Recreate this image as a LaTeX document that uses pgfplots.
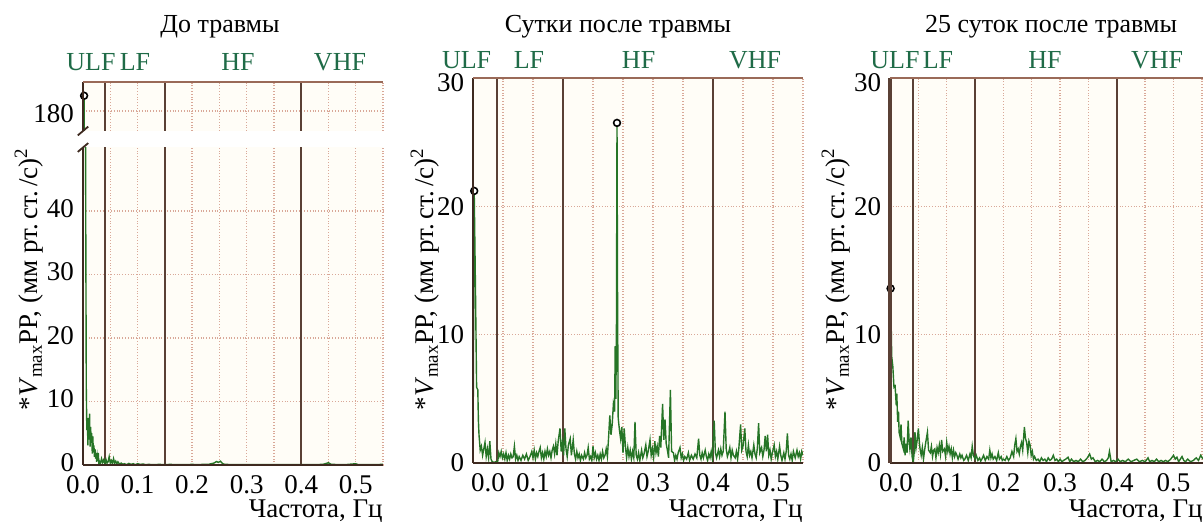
\documentclass[border=0pt]{standalone}
\usepackage{fontspec}
\setmainfont{Liberation Serif}
\usepackage{pgfplots}
\usepackage{pgfplotstable}
\pgfplotsset{compat=1.18}
\definecolor{axbrown}{HTML}{3E2A20}
\definecolor{bandline}{HTML}{5A4035}
\definecolor{gridc}{HTML}{D9A898}
\definecolor{topc}{HTML}{9A6A58}
\definecolor{specg}{HTML}{267526}
\definecolor{bandlbl}{HTML}{1F6B47}
\definecolor{bgc}{HTML}{FFFDF7}
\newcommand{\fs}{\fontsize{13.5}{15}\selectfont}
\newcommand{\ylab}{*\textit{V}\textsubscript{max}PP, (мм рт.\,ст.\,/с)\textsuperscript{2}}

\pgfplotstableread{
f v
0.000 0
0.002 182.4
0.004 90
0.005 40
0.006 12.3
0.007 5.5
0.008 7.1
0.009 3.1
0.010 7.4
0.011 4.0
0.012 8.1
0.013 2.9
0.014 6.0
0.015 3.5
0.016 5.0
0.017 1.8
0.018 4.5
0.019 2.0
0.020 3.1
0.021 1.3
0.022 2.5
0.023 1.0
0.024 1.9
0.025 0.5
0.026 1.4
0.027 0.6
0.028 1.9
0.029 0.3
0.030 0.6
0.032 0.2
0.034 1.0
0.036 0.4
0.038 0.8
0.040 0.2
0.042 0.9
0.044 0.3
0.046 0.5
0.048 1.3
0.050 0.3
0.052 0.7
0.054 0.2
0.056 1.0
0.058 0.3
0.060 0.6
0.062 0.15
0.064 0.5
0.067 0.1
0.070 0.3
0.073 0.1
0.076 0.2
0.080 0.05
0.084 0.25
0.088 0.1
0.092 0.2
0.096 0.05
0.100 0.2
0.105 0.1
0.110 0.15
0.115 0.05
0.120 0.1
0.130 0.05
0.140 0.1
0.150 0.05
0.160 0.1
0.170 0.05
0.180 0.08
0.190 0.05
0.200 0.1
0.210 0.05
0.220 0.1
0.230 0.1
0.240 0.3
0.245 0.55
0.248 0.4
0.252 0.6
0.256 0.2
0.260 0.1
0.280 0.05
0.300 0.08
0.320 0.05
0.350 0.05
0.380 0.05
0.400 0.05
0.420 0.05
0.440 0.1
0.450 0.35
0.455 0.1
0.480 0.05
0.500 0.2
0.505 0.05
0.530 0.05
0.550 0.1
}\dataA

\pgfplotstableread{
f v
0.000 0
0.002 21.2
0.004 14
0.006 5.9
0.008 5.7
0.009 3.3
0.010 2.2
0.012 1.0
0.014 1.3
0.016 0.6
0.018 1.1
0.020 1.6
0.022 0.5
0.024 1.1
0.026 0.4
0.028 1.7
0.030 0.3
0.032 0.1
0.035 0.05
0.038 0.1
0.041 0.05
0.043 0.8
0.045 0.5
0.047 0.9
0.049 0.4
0.051 0.7
0.053 0.3
0.055 0.8
0.057 0.2
0.059 0.6
0.061 0.3
0.063 0.7
0.065 0.4
0.067 0.5
0.069 1.3
0.071 0.3
0.073 0.6
0.075 0.2
0.077 0.5
0.080 0.2
0.083 0.6
0.086 0.3
0.089 0.7
0.092 0.2
0.095 0.5
0.098 0.9
0.100 0.4
0.102 1.0
0.104 0.3
0.106 0.8
0.108 0.5
0.110 0.9
0.112 1.2
0.114 0.4
0.116 0.8
0.118 0.3
0.120 0.9
0.122 0.5
0.124 1.1
0.126 0.6
0.128 0.9
0.130 0.4
0.132 1.0
0.134 1.3
0.136 0.7
0.138 1.5
0.140 0.6
0.142 1.7
0.145 2.7
0.147 0.9
0.149 1.6
0.151 0.6
0.153 2.7
0.155 1.1
0.157 0.5
0.159 1.4
0.162 1.9
0.164 0.6
0.167 1.8
0.169 0.7
0.171 0.3
0.173 0.9
0.175 0.4
0.177 0.7
0.179 0.2
0.181 0.6
0.184 0.3
0.186 0.8
0.188 0.4
0.190 0.6
0.192 1.2
0.194 0.3
0.196 0.5
0.198 0.2
0.200 1.3
0.202 0.4
0.204 0.8
0.206 0.3
0.208 0.6
0.210 0.2
0.212 0.7
0.214 0.3
0.216 0.9
0.218 0.4
0.220 0.6
0.222 1.1
0.224 0.5
0.226 2.0
0.228 3.7
0.230 2.2
0.232 3.0
0.234 4.6
0.236 4.0
0.237 9.1
0.238 5.0
0.239 9.5
0.240 26.5
0.241 12
0.242 3.5
0.244 2.6
0.246 1.9
0.248 2.8
0.250 0.8
0.252 2.7
0.254 1.3
0.256 0.4
0.258 1.2
0.260 0.5
0.262 1.0
0.264 0.3
0.266 0.9
0.268 0.4
0.270 3.2
0.272 0.6
0.274 0.3
0.276 0.8
0.278 0.2
0.281 1.0
0.283 0.4
0.285 0.7
0.288 1.4
0.290 0.5
0.292 0.9
0.295 1.8
0.297 0.6
0.299 1.1
0.301 0.4
0.303 1.7
0.305 0.8
0.307 1.3
0.309 0.5
0.311 2.1
0.313 1.2
0.316 4.6
0.318 1.8
0.320 3.4
0.322 1.5
0.324 1.0
0.326 0.4
0.329 5.7
0.331 0.9
0.334 0.8
0.336 0.2
0.338 0.6
0.340 0.3
0.342 0.8
0.345 1.2
0.347 0.4
0.349 0.7
0.351 0.2
0.353 0.5
0.356 0.3
0.359 0.8
0.361 0.2
0.364 0.6
0.367 0.3
0.370 0.7
0.373 0.4
0.376 1.9
0.378 0.6
0.380 0.3
0.382 0.8
0.384 0.4
0.387 1.0
0.389 0.5
0.391 0.2
0.393 0.7
0.395 0.4
0.397 0.9
0.399 0.3
0.402 3.3
0.404 0.8
0.406 0.4
0.409 1.0
0.411 0.5
0.413 1.1
0.415 0.6
0.417 0.9
0.420 4.0
0.422 1.1
0.424 0.5
0.426 0.8
0.428 1.2
0.430 0.4
0.432 1.0
0.434 0.6
0.437 0.4
0.439 0.9
0.441 0.3
0.443 1.1
0.446 3.0
0.448 1.0
0.450 1.3
0.453 2.7
0.455 0.9
0.457 0.5
0.459 1.4
0.461 0.6
0.463 0.9
0.465 0.4
0.468 1.4
0.470 0.7
0.472 0.4
0.474 1.2
0.476 3.1
0.478 0.8
0.481 1.2
0.483 0.5
0.485 1.0
0.487 2.1
0.489 0.9
0.491 2.2
0.493 0.6
0.495 1.0
0.497 0.3
0.499 0.8
0.502 1.4
0.504 0.5
0.506 0.9
0.508 0.3
0.511 1.3
0.513 0.6
0.515 0.2
0.518 0.8
0.520 0.3
0.522 0.9
0.524 2.3
0.526 0.6
0.528 0.3
0.530 0.7
0.532 0.2
0.534 0.9
0.537 0.4
0.540 1.0
0.542 0.5
0.544 0.8
0.546 0.3
0.548 0.9
0.550 0.6
}\dataB

\pgfplotstableread{
f v
0.000 0
0.001 13.6
0.003 8.3
0.005 7.5
0.007 5.9
0.009 6.0
0.011 4.5
0.012 5.4
0.0135 3.2
0.015 4.0
0.016 2.4
0.018 2.0
0.0194 3.0
0.021 1.5
0.0235 1.1
0.025 2.0
0.0265 0.6
0.028 1.5
0.030 0.8
0.032 3.3
0.034 1.5
0.035 1.1
0.037 2.0
0.039 0.5
0.041 0.05
0.043 1.0
0.044 2.4
0.046 1.2
0.048 1.8
0.050 2.7
0.052 1.5
0.053 1.1
0.055 0.6
0.057 1.2
0.059 0.3
0.061 1.0
0.063 1.6
0.066 2.4
0.068 1.0
0.071 0.8
0.073 1.3
0.075 0.5
0.077 1.0
0.079 1.1
0.081 0.4
0.083 1.2
0.085 0.8
0.087 1.4
0.089 0.7
0.091 1.8
0.093 0.9
0.096 1.1
0.098 0.5
0.100 1.6
0.102 0.9
0.104 1.3
0.106 0.7
0.108 1.1
0.110 0.4
0.112 1.0
0.114 0.5
0.116 0.8
0.118 0.6
0.120 0.3
0.123 0.7
0.125 0.4
0.127 0.6
0.130 0.2
0.132 0.3
0.135 0.6
0.138 0.2
0.141 0.7
0.143 0.4
0.145 1.3
0.147 0.6
0.150 0.3
0.152 0.6
0.155 0.2
0.158 0.4
0.160 0.15
0.162 0.3
0.165 0.6
0.168 0.2
0.171 0.5
0.174 0.3
0.176 1.0
0.178 0.4
0.180 0.7
0.182 0.3
0.185 0.5
0.188 0.2
0.191 0.8
0.193 0.3
0.196 0.5
0.198 0.2
0.200 0.3
0.203 0.2
0.206 0.5
0.209 0.2
0.212 0.4
0.215 0.9
0.218 0.5
0.220 1.4
0.222 1.9
0.224 0.9
0.226 1.1
0.228 0.7
0.230 1.3
0.232 1.6
0.234 1.0
0.236 2.2
0.237 2.8
0.239 1.9
0.241 1.6
0.243 0.8
0.245 1.7
0.247 1.4
0.249 0.6
0.251 0.9
0.253 0.3
0.255 0.5
0.258 0.2
0.261 0.3
0.264 0.1
0.267 0.4
0.270 0.2
0.273 0.3
0.276 0.1
0.279 0.4
0.282 0.2
0.285 0.3
0.288 0.6
0.291 0.2
0.294 0.3
0.297 0.1
0.300 0.3
0.303 0.1
0.306 0.2
0.310 0.3
0.314 0.45
0.317 0.1
0.320 0.3
0.324 0.1
0.328 0.2
0.332 0.1
0.336 0.3
0.340 0.1
0.344 0.2
0.348 0.4
0.352 0.7
0.355 0.3
0.358 0.4
0.362 0.1
0.366 0.2
0.370 0.1
0.374 0.3
0.378 0.1
0.382 0.2
0.385 0.4
0.387 0.9
0.390 0.1
0.394 0.2
0.398 0.1
0.402 0.3
0.406 0.1
0.410 0.2
0.415 0.1
0.420 0.3
0.425 0.1
0.430 0.2
0.435 0.3
0.440 0.1
0.445 0.2
0.450 0.1
0.455 0.4
0.458 0.1
0.462 0.2
0.466 0.1
0.470 0.3
0.474 0.1
0.478 0.2
0.482 0.1
0.486 0.2
0.490 0.1
0.495 0.3
0.500 0.6
0.503 0.3
0.506 0.45
0.509 0.1
0.512 0.3
0.515 0.5
0.518 0.2
0.521 0.1
0.525 0.3
0.530 0.1
0.535 0.2
0.540 0.4
0.544 0.2
0.548 0.6
0.552 0.3
}\dataC

\pgfplotsset{
  spec/.style={
    scale only axis,
    xmin=0, xmax=0.55,
    axis line style={draw=none},
    axis background/.style={fill=bgc},
    major tick length=0pt, minor tick length=0pt,
    xtick={0,0.1,0.2,0.3,0.4,0.5},
    xticklabels={0.0,0.1,0.2,0.3,0.4,0.5},
    minor xtick={0.05,0.25,0.35,0.45,0.55},
    xmajorgrids, xminorgrids, ymajorgrids,
    major grid style={gridc, densely dotted, line width=0.7pt},
    minor grid style={gridc, densely dotted, line width=0.7pt},
    extra x ticks={0.04,0.15,0.4},
    extra x tick labels={},
    extra x tick style={grid=major, major grid style={bandline, solid, line width=1pt}},
    ticklabel style={font=\fs, inner sep=0.5pt},
    xticklabel style={yshift=-4.5pt},
    yticklabel style={xshift=-3.8pt},
    /pgf/number format/assume math mode=true,
    xlabel style={font=\fs, anchor=base east, inner sep=0pt},
  },
  specline/.style={color=specg, line width=0.7pt, mark=none},
  dot/.style={only marks, mark=*, mark size=1.7pt, mark options={draw=black, fill=white, line width=0.8pt}},
}

\begin{document}
\begin{tikzpicture}
% ---------- Panel 1 (broken axis) ----------
\begin{axis}[spec, name=p1lo, at={(41.5pt,28.5pt)}, anchor=south west,
  width=150pt, height=158.75pt, ymin=0, ymax=50, ytick={0,10,20,30,40},
  yticklabel style={yshift=1.2pt},
  xlabel={Частота, Гц}, xlabel style={at={(rel axis cs:1,0)}, yshift=-26.5pt}]
  \addplot[specline] table[x=f,y=v] {\dataA};
\end{axis}
\begin{axis}[spec, name=p1up, at={(41.5pt,195.5pt)}, anchor=south west,
  width=150pt, height=24.6pt, ymin=176.85, ymax=184.6, ytick={180},
  xticklabels={}, yticklabel style={yshift=-1.5pt}]
  \addplot[specline] table[x=f,y=v] {\dataA};
  \addplot[dot] coordinates {(0.002,182.4)};
\end{axis}
\draw[axbrown, line width=1.1pt] (p1lo.south west) -- (p1lo.south east);
\draw[axbrown, line width=1.4pt] (p1lo.south west) -- (p1lo.north west);
\draw[axbrown, line width=1.4pt] (p1up.south west) -- (p1up.north west);
\draw[topc, line width=1.1pt] (p1up.north west) -- (p1up.north east);
\draw[axbrown, line width=0.9pt] ([xshift=-2.6pt,yshift=-2.2pt]p1lo.north west) -- ([xshift=2.6pt,yshift=2.2pt]p1lo.north west);
\draw[axbrown, line width=0.9pt] ([xshift=-2.6pt,yshift=-2.2pt]p1up.south west) -- ([xshift=2.6pt,yshift=2.2pt]p1up.south west);

% ---------- Panel 2 ----------
\begin{axis}[spec, name=p2, at={(236.5pt,29.5pt)}, anchor=south west,
  width=165pt, height=192.5pt, ymin=0, ymax=30, ytick={0,10,20,30},
  yticklabels={0,10,20,\raisebox{-7pt}[0pt][0pt]{30}},
  xticklabels={\hspace*{15pt}0.0,0.1,0.2,0.3,0.4,0.5},
  xlabel={Частота, Гц}, xlabel style={at={(rel axis cs:1,0)}, yshift=-27.5pt}]
  \addplot[specline] table[x=f,y=v] {\dataB};
  \addplot[dot] coordinates {(0.002,21.2) (0.240,26.5)};
\end{axis}
\draw[axbrown, line width=1.1pt] (p2.south west) -- (p2.south east);
\draw[axbrown, line width=1.4pt] (p2.south west) -- (p2.north west);
\draw[topc, line width=1.1pt] (p2.north west) -- (p2.north east);

% ---------- Panel 3 ----------
\begin{axis}[spec, name=p3, at={(445pt,29.5pt)}, anchor=south west,
  width=156.5pt, height=192.5pt, xmax=0.552, ymin=0, ymax=30, ytick={0,10,20,30},
  yticklabels={0,10,20,\raisebox{-7pt}[0pt][0pt]{30}},
  xticklabels={\hspace*{6pt}0.0,0.1,0.2,0.3,0.4,0.5},
  xlabel={Частота, Гц}, xlabel style={at={(rel axis cs:1,0)}, yshift=-27.5pt}]
  \addplot[specline] table[x=f,y=v] {\dataC};
  \addplot[dot] coordinates {(0.001,13.6)};
\end{axis}
\draw[axbrown, line width=1.1pt] (p3.south west) -- (p3.south east);
\draw[bandline, line width=1.6pt] (p3.south west) -- (p3.north west);
\draw[topc, line width=1.1pt] (p3.north west) -- (p3.north east);

% ---------- y labels ----------
\node[rotate=90, font=\fs] at (14.5pt,121.5pt) {\ylab};
\node[rotate=90, font=\fs] at (212.5pt,121.5pt) {\ylab};
\node[rotate=90, font=\fs] at (418pt,121.5pt) {\ylab};

% ---------- titles ----------
\node[font=\fontsize{13}{15}\selectfont, anchor=base] at (110pt,244.5pt) {До травмы};
\node[font=\fontsize{13}{15}\selectfont, anchor=base] at (309pt,244.5pt) {Сутки после травмы};
\node[font=\fontsize{13}{15}\selectfont, anchor=base] at (525.5pt,244.5pt) {25 суток после травмы};

% ---------- band labels ----------
\begin{scope}[every node/.style={font=\fontsize{13}{15}\selectfont, text=bandlbl, inner sep=0pt}]
\node at (45.5pt,230pt) {ULF};
\node at (67.5pt,230pt) {LF};
\node at (119pt,230pt) {HF};
\node at (170pt,230pt) {VHF};
\node at (233.3pt,231pt) {ULF};
\node at (264.5pt,231pt) {LF};
\node at (319.3pt,231pt) {HF};
\node at (377.5pt,231pt) {VHF};
\node at (447.5pt,231pt) {ULF};
\node at (469pt,231pt) {LF};
\node at (522.5pt,231pt) {HF};
\node at (578.5pt,231pt) {VHF};
\end{scope}

\pgfresetboundingbox
\useasboundingbox (0pt,0pt) rectangle (601.5pt,261pt);
\end{tikzpicture}
\end{document}
